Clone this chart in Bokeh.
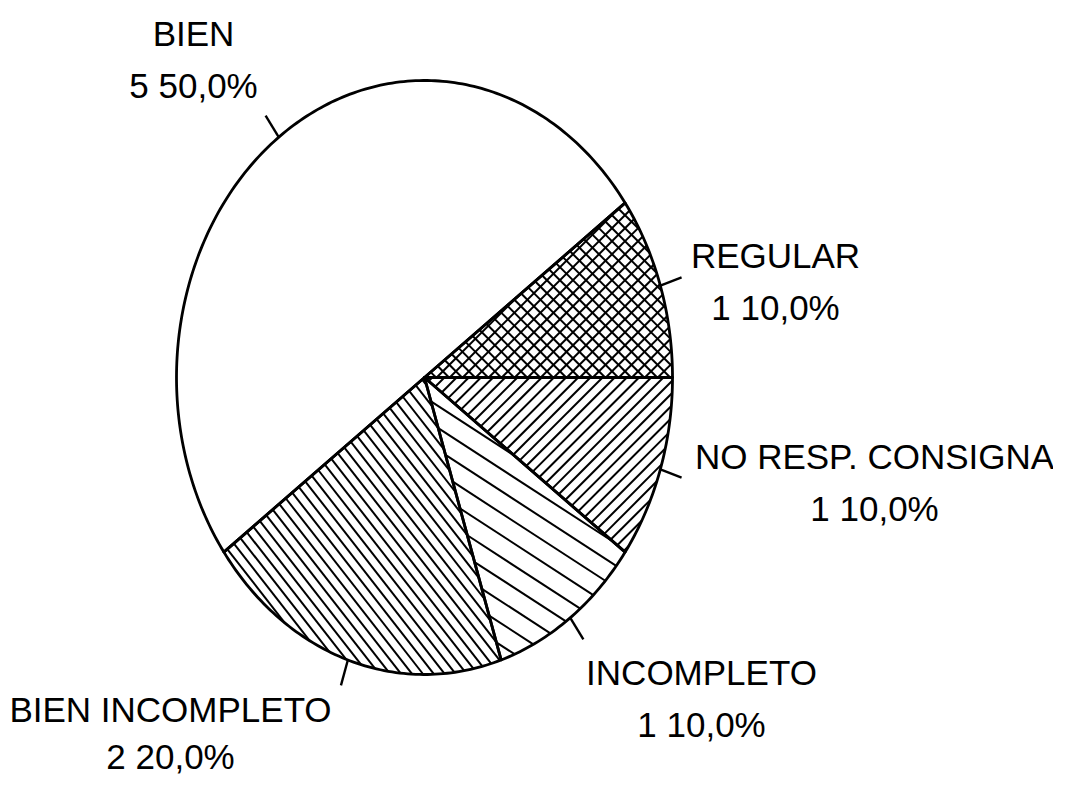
import numpy as np
from bokeh.plotting import figure
from bokeh.models import Range1d
from bokeh.core.properties import value
from bokeh.embed import file_html
from bokeh.resources import INLINE

# ---- data (counterclockwise from 3 o'clock) ----
categories = ["REGULAR", "BIEN", "BIEN INCOMPLETO", "INCOMPLETO", "NO RESP. CONSIGNA"]
counts = [1, 5, 2, 1, 1]
count_pct_labels = ["1 10,0%", "5 50,0%", "2 20,0%", "1 10,0%", "1 10,0%"]

# ---- styles / layout ----
hatches = {
    "REGULAR": [(45, 9.2), (-45, 9.2)],
    "BIEN": [],
    "BIEN INCOMPLETO": [(52, 8.6)],
    "INCOMPLETO": [(33, 18.5)],
    "NO RESP. CONSIGNA": [(-45, 8.6)],
}
# (center x, baseline of first line, line gap) as seen in the picture
label_pos = {
    "BIEN": (193, 45, 52),
    "REGULAR": (775, 267, 52),
    "NO RESP. CONSIGNA": (874, 468, 52),
    "INCOMPLETO": (701, 684, 52),
    "BIEN INCOMPLETO": (170, 721, 47),
}
TEXT_DY = -12  # compensation for the renderer's baseline offset

CX, CY, RX, RY = 424.0, 377.0, 248.0, 297.0
W, H = 1053, 775

p = figure(width=W, height=H, output_backend="svg", toolbar_location=None,
           x_range=Range1d(0, W), y_range=Range1d(H, 0),
           min_border=0, outline_line_color=None, background_fill_color="white")
p.axis.visible = False
p.grid.visible = False


def pt(theta, r=1.0):
    return CX + r * RX * np.cos(theta), CY - r * RY * np.sin(theta)


def clip_lines(px, py, ang_deg, spacing):
    a = np.radians(ang_deg)
    d = np.array([np.cos(a), np.sin(a)])
    n = np.array([-np.sin(a), np.cos(a)])
    P = np.column_stack([px, py])
    proj = P @ n
    xs, ys = [], []
    c0 = np.floor(proj.min() / spacing) * spacing
    c = c0 + spacing * 0.5
    while c < proj.max():
        pts = []
        for i in range(len(P)):
            A, B = P[i], P[(i + 1) % len(P)]
            da, db = A @ n - c, B @ n - c
            if da * db < 0:
                pts.append(A + (B - A) * da / (da - db))
        if len(pts) >= 2:
            pts = np.array(pts)
            t = pts @ d
            q0, q1 = pts[np.argmin(t)], pts[np.argmax(t)]
            xs.append([q0[0], q1[0]])
            ys.append([q0[1], q1[1]])
        c += spacing
    return xs, ys


total = float(sum(counts))
cum = np.concatenate([[0], np.cumsum(counts)]) / total * 2 * np.pi

wedge_xs, wedge_ys = [], []
for i, cat in enumerate(categories):
    a0, a1 = cum[i], cum[i + 1]
    th = np.linspace(a0, a1, max(int((a1 - a0) / (2 * np.pi) * 400), 20))
    ax, ay = pt(th)
    wx = np.concatenate([[CX], ax])
    wy = np.concatenate([[CY], ay])
    wedge_xs.append(list(wx))
    wedge_ys.append(list(wy))

# fills
p.patches(wedge_xs, wedge_ys, fill_color="white", line_color=None)

# hatches
for i, cat in enumerate(categories):
    for ang, sp in hatches[cat]:
        hx, hy = clip_lines(np.array(wedge_xs[i]), np.array(wedge_ys[i]), ang, sp)
        if hx:
            p.multi_line(hx, hy, line_color="black", line_width=2.0)

# outlines
p.patches(wedge_xs, wedge_ys, fill_color=None, line_color="black", line_width=2.8,
          line_join="round")

# leader ticks and labels
for i, cat in enumerate(categories):
    mid = 0.5 * (cum[i] + cum[i + 1])
    x0, y0 = pt(mid, 1.0)
    x1, y1 = pt(mid, 1.09)
    p.line([x0, x1], [y0, y1], line_color="black", line_width=2.4)
    lx, ly, gap = label_pos[cat]
    p.text([lx], [ly + TEXT_DY], text=[cat], text_align="center", text_baseline="alphabetic",
           text_font=value("Liberation Sans"), text_font_size="35px", text_color="black")
    p.text([lx], [ly + gap + TEXT_DY], text=[count_pct_labels[i]], text_align="center",
           text_baseline="alphabetic", text_font=value("Liberation Sans"),
           text_font_size="35px", text_color="black")

open("out.html", "w").write(file_html(p, INLINE))
